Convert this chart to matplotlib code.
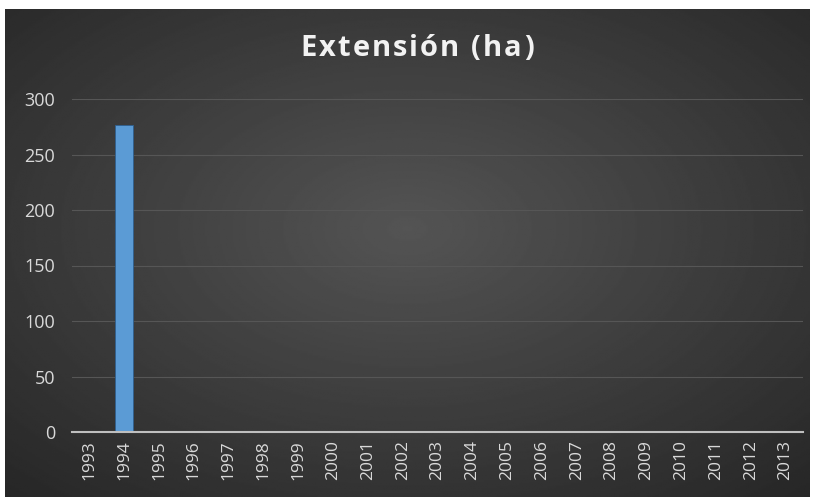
import matplotlib
matplotlib.use("Agg")
import matplotlib.pyplot as plt
import numpy as np

# data
years = [str(y) for y in range(1993, 2014)]
extension = [0, 277, 0, 0, 0, 1, 0, 0, 0, 0, 0, 0, 0, 0.5, 0, 0, 0, 0, 0, 0, 0]
title = "Extensión (ha)"

W, H = 815, 497
fig = plt.figure(figsize=(W / 100, H / 100), dpi=100)
fig.patch.set_facecolor("white")

# dark radial-gradient panel
bg = fig.add_axes([5 / W, 0, 805 / W, (H - 9) / H])
yy, xx = np.mgrid[0:1:300j, 0:1:500j]
r = np.sqrt(((xx - 0.5) / 0.75) ** 2 + ((yy - 0.45) / 0.75) ** 2)
shade = 0.33 - 0.18 * np.clip(r, 0, 1)
bg.imshow(shade, cmap="gray", vmin=0, vmax=1, aspect="auto", extent=[0, 1, 0, 1])
bg.axis("off")

ax = fig.add_axes([72 / W, (H - 432) / H, 731 / W, (432 - 99) / H])
ax.patch.set_alpha(0)
x = np.arange(len(years))
ax.bar(x, extension, width=0.52, color="#5b9bd5", edgecolor="#2e5f8f", linewidth=0.6, zorder=3)
ax.set_xlim(-0.5, len(years) - 0.5)
ax.set_ylim(0, 300)
ax.set_yticks(range(0, 301, 50))
ax.set_xticks(x)
ax.set_xticklabels(years, rotation=90, family="Open Sans", fontsize=12.5)
for t in ax.get_yticklabels():
    t.set_family("Open Sans")
    t.set_fontsize(13)
ax.tick_params(axis="both", colors="#d9d9d9", length=0)
ax.tick_params(axis="x", pad=6)
ax.tick_params(axis="y", pad=12)
ax.grid(axis="y", color="#565656", linewidth=0.8, zorder=0)
for s in ["top", "right", "left"]:
    ax.spines[s].set_visible(False)
ax.spines["bottom"].set_color("#bfbfbf")
ax.spines["bottom"].set_linewidth(1.5)
ax.spines["bottom"].set_zorder(4)

# letter-spaced title, measured with the renderer
renderer = fig.canvas.get_renderer()
spacing = 2.0
tkw = dict(color="#f2f2f2", family="Open Sans", fontweight="bold", fontsize=21, va="center")
def width_of(s):
    if not s:
        return 0.0
    t = fig.text(0, 0, s.replace(" ", "\u00a0"), **tkw)
    w = t.get_window_extent(renderer).width
    t.remove()
    return w
total = width_of(title) + spacing * (len(title) - 1)
x0 = 417 - total / 2
for i, ch in enumerate(title):
    if ch == " ":
        continue
    xp = x0 + width_of(title[:i]) + spacing * i
    fig.text(xp / W, 1 - 49 / H, ch, ha="left", **tkw)

fig.savefig("out.png", dpi=100)
